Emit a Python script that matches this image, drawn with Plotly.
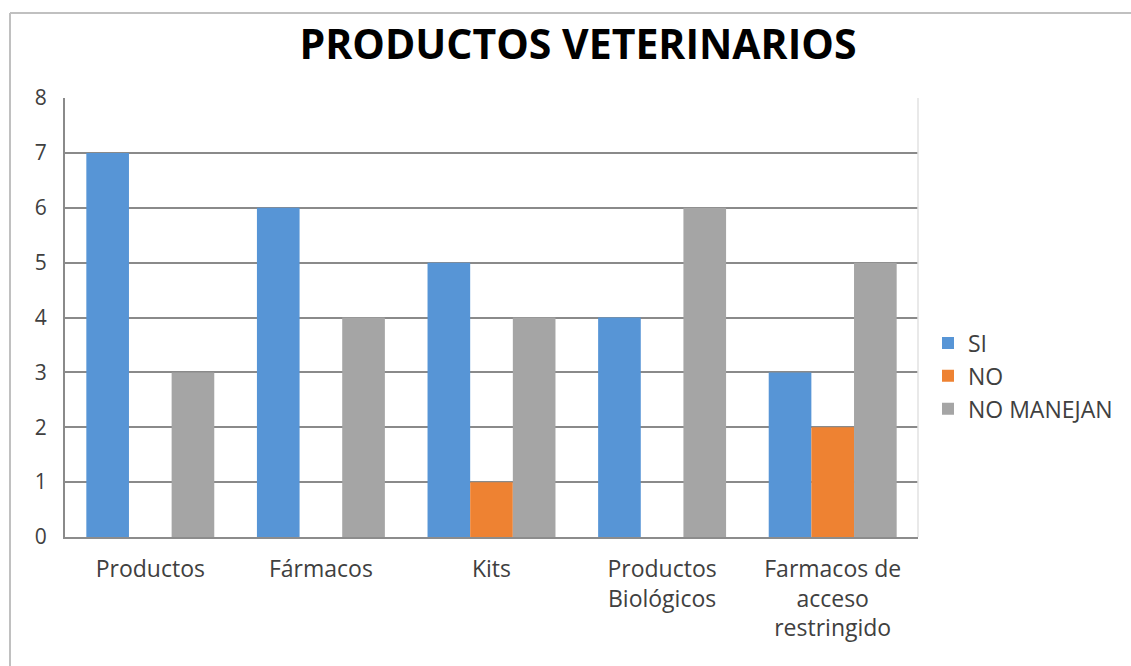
import plotly.graph_objects as go

# Survey results: veterinary product lines handled
categories = ["Productos", "Fármacos", "Kits", "Productos<br>Biológicos",
              "Farmacos de<br>acceso<br>restringido"]
si = [7, 6, 5, 4, 3]
no = [0, 0, 1, 0, 2]
no_manejan = [3, 4, 4, 6, 5]
y_ticks = [0, 1, 2, 3, 4, 5, 6, 7, 8]

FONT = "Open Sans"
TEXT = "#404040"

fig = go.Figure()
series = [
    ("SI", si, "#5795d6"),
    ("NO", no, "#ee8232"),
    ("NO MANEJAN", no_manejan, "#a5a5a5"),
]
for name, vals, color in series:
    fig.add_trace(go.Bar(
        x=categories, y=vals, name=name,
        marker=dict(color=color, line=dict(width=0)),
    ))

W, H = 1131, 666
L, R, T, B = 65, 213, 98, 129
pw, ph = W - L - R, H - T - B

fig.update_layout(
    width=W, height=H,
    margin=dict(l=L, r=R, t=T, b=B),
    paper_bgcolor="white", plot_bgcolor="white",
    barmode="group", bargap=0.25, bargroupgap=0,
    font=dict(family=FONT, size=21, color=TEXT),
    title=dict(text="<b>PRODUCTOS VETERINARIOS</b>",
               font=dict(family=FONT, size=41, color="#000000"),
               x=578 / W, xanchor="center", y=1 - 45 / H, yanchor="middle"),
    legend=dict(x=(928 - L) / pw, xanchor="left",
                y=(537 - 376) / ph, yanchor="middle",
                font=dict(family=FONT, size=23, color=TEXT),
                itemwidth=30, tracegroupgap=0, bgcolor="rgba(0,0,0,0)"),
    xaxis=dict(showgrid=False, showline=True, linecolor="#8c8c8c", linewidth=2,
               ticks="", ticklabelstandoff=10, tickfont=dict(size=23, color=TEXT),
               mirror=False),
    yaxis=dict(range=[0, 8], tickvals=y_ticks, showgrid=True,
               gridcolor="#8a8a8a", gridwidth=2, showline=True,
               linecolor="#8a8a8a", linewidth=2, ticks="", ticklabelstandoff=12,
               tickfont=dict(size=21, color=TEXT), zeroline=False),
    shapes=[
        # outer chart frame (top and left edges)
        dict(type="line", xref="paper", yref="paper",
             x0=(10 - L) / pw, x1=(W - L) / pw,
             y0=1 + (T - 13) / ph, y1=1 + (T - 13) / ph,
             line=dict(color="#c0c0c0", width=2)),
        dict(type="line", xref="paper", yref="paper",
             x0=(10 - L) / pw, x1=(10 - L) / pw,
             y0=1 + (T - 13) / ph, y1=-B / ph,
             line=dict(color="#c0c0c0", width=2)),
        # light right edge of the plot area
        dict(type="line", xref="paper", yref="paper", x0=1, x1=1, y0=0, y1=1,
             line=dict(color="#e2e2e2", width=1.5)),
    ],
)

fig.write_html("out.html")
